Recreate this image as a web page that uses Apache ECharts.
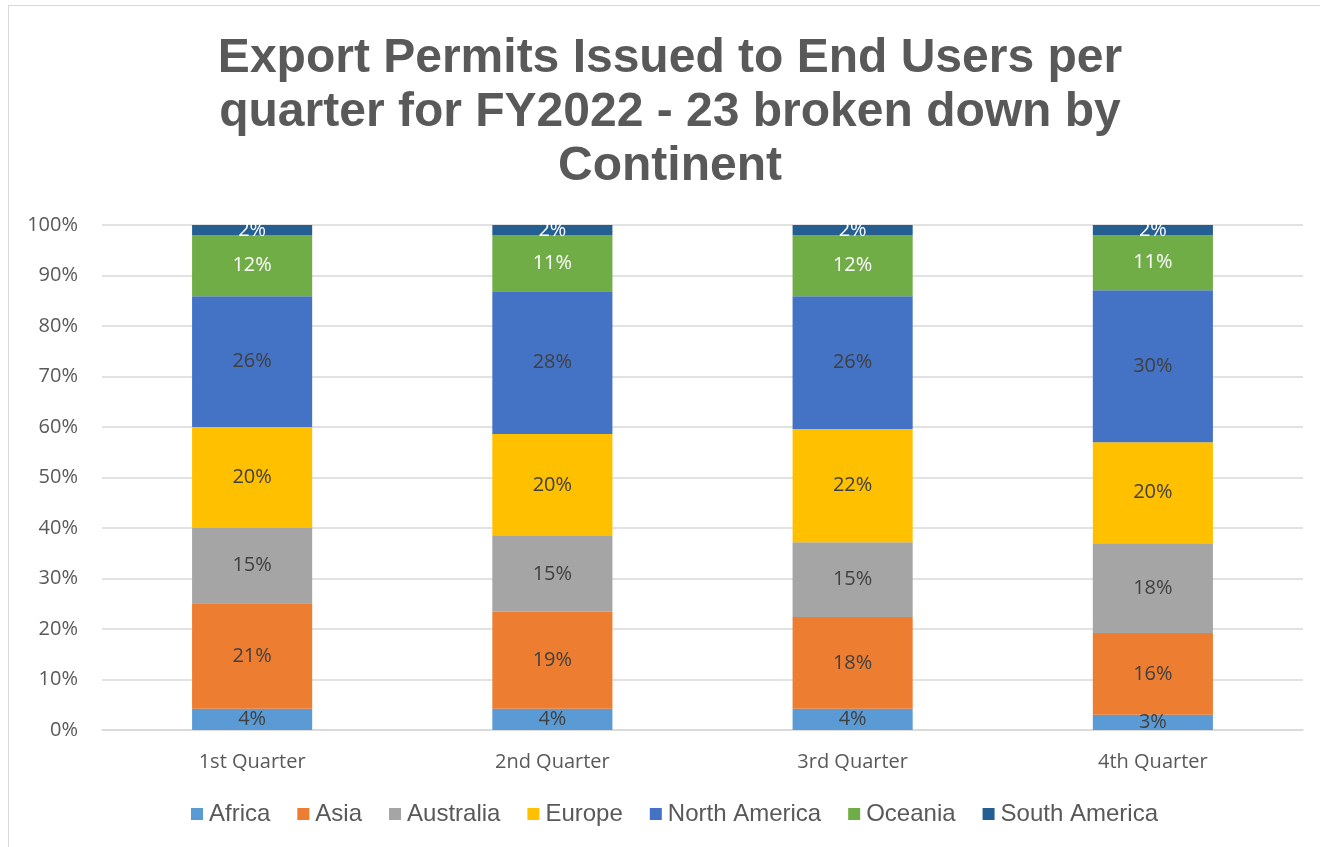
<!DOCTYPE html>
<html>
<head>
<meta charset="utf-8">
<script src="https://cdn.jsdelivr.net/npm/echarts@6/dist/echarts.min.js"></script>
<style>
html,body{margin:0;padding:0;background:#fff;}
#frame{position:absolute;left:8px;top:5px;width:1330px;height:860px;border:1px solid #d9d9d9;box-sizing:border-box;}
#chart{position:absolute;left:0;top:0;width:1320px;height:847px;}
</style>
</head>
<body>
<div id="frame"></div>
<div id="chart"></div>
<script>
const categories = ['1st Quarter', '2nd Quarter', '3rd Quarter', '4th Quarter'];
const seriesNames = ['Africa', 'Asia', 'Australia', 'Europe', 'North America', 'Oceania', 'South America'];
const africa = [4.2, 4.2, 4.2, 3.0];
const asia = [20.9, 19.2, 18.2, 16.2];
const australia = [14.9, 15.0, 14.8, 17.8];
const europe = [20.0, 20.2, 22.4, 20.0];
const northAmerica = [25.9, 28.3, 26.3, 30.1];
const oceania = [12.1, 11.1, 12.1, 10.9];
const southAmerica = [2.0, 2.0, 2.0, 2.0];
const yTicks = [0, 10, 20, 30, 40, 50, 60, 70, 80, 90, 100];

const values = [africa, asia, australia, europe, northAmerica, oceania, southAmerica];
const colors = ['#5b9bd5', '#ed7d31', '#a5a5a5', '#ffc000', '#4472c4', '#70ad47', '#255e91'];
const labelColors = ['#404040', '#404040', '#404040', '#404040', '#404040', '#ffffff', '#ffffff'];

const chart = echarts.init(document.getElementById('chart'));
chart.setOption({
  animation: false,
  title: {
    text: 'Export Permits Issued to End Users per\nquarter for FY2022 - 23 broken down by\nContinent',
    left: 665,
    textAlign: 'center',
    top: 27,
    textStyle: {
      fontFamily: 'Liberation Sans, Arial, sans-serif',
      fontWeight: 'bold',
      fontSize: 48,
      lineHeight: 54,
      color: '#595959'
    }
  },
  legend: {
    bottom: 16,
    left: 186,
    itemWidth: 12,
    itemHeight: 12,
    itemGap: 27,
    icon: 'rect',
    textStyle: {
      fontFamily: 'Liberation Sans, Arial, sans-serif',
      fontSize: 24,
      color: '#595959',
      padding: [0, 0, 0, 1]
    },
    data: seriesNames
  },
  grid: { left: 102, right: 17, top: 225, bottom: 117 },
  xAxis: {
    type: 'category',
    data: categories,
    axisLine: { lineStyle: { color: '#d9d9d9', width: 1.5 } },
    axisTick: { show: false },
    axisLabel: {
      fontFamily: 'Open Sans, sans-serif',
      fontSize: 20,
      color: '#595959',
      margin: 22
    }
  },
  yAxis: {
    type: 'value',
    min: yTicks[0],
    max: yTicks[yTicks.length - 1],
    interval: 10,
    axisLine: { show: false },
    axisTick: { show: false },
    splitLine: { lineStyle: { color: '#d9d9d9', width: 1.5 } },
    axisLabel: {
      formatter: '{value}%',
      fontFamily: 'Open Sans, sans-serif',
      fontSize: 20,
      color: '#595959',
      margin: 24
    }
  },
  series: seriesNames.map((name, i) => ({
    name: name,
    type: 'bar',
    stack: 'total',
    barWidth: '40%',
    data: values[i],
    itemStyle: { color: colors[i] },
    label: {
      show: true,
      position: 'inside',
      formatter: p => Math.round(p.value) + '%',
      fontFamily: 'Open Sans, sans-serif',
      fontSize: 20,
      color: labelColors[i]
    }
  }))
});
</script>
</body>
</html>
